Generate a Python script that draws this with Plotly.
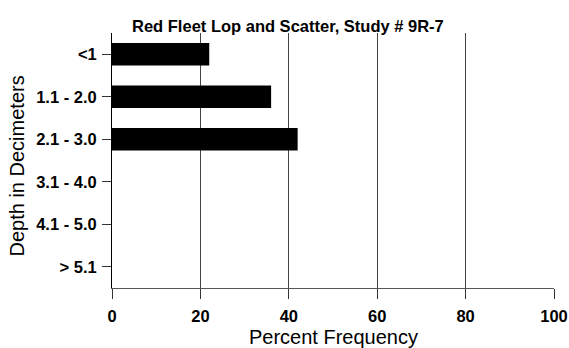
import plotly.graph_objects as go

# Depth classes (top to bottom) and their percent frequencies
depth_classes = ["<1", "1.1 - 2.0", "2.1 - 3.0", "3.1 - 4.0", "4.1 - 5.0", "> 5.1"]
percent_freq = [22, 36, 42, 0, 0, 0]
x_ticks = [0, 20, 40, 60, 80, 100]

FONT = "Liberation Sans, Arial, sans-serif"

fig = go.Figure(
    go.Bar(
        x=percent_freq,
        y=depth_classes,
        orientation="h",
        width=0.53,
        marker=dict(color="black", line=dict(width=0)),
    )
)

fig.update_layout(
    width=569,
    height=348,
    margin=dict(l=112, r=15, t=33, b=60),
    paper_bgcolor="white",
    plot_bgcolor="white",
    showlegend=False,
    title=dict(
        text="<b>Red Fleet Lop and Scatter, Study # 9R-7</b>",
        x=0.506,
        xanchor="center",
        y=0.925,
        yanchor="middle",
        font=dict(family=FONT, size=16.5, color="black"),
    ),
    font=dict(family=FONT, color="black"),
    annotations=[
        dict(
            text="Percent Frequency",
            xref="paper", yref="paper",
            x=0.5, y=-0.194,
            xanchor="center", yanchor="middle",
            showarrow=False,
            font=dict(family=FONT, size=20, color="black"),
        ),
        dict(
            text="Depth in Decimeters",
            xref="paper", yref="paper",
            x=-0.214, y=0.478,
            xanchor="center", yanchor="middle",
            textangle=-90,
            showarrow=False,
            font=dict(family=FONT, size=20, color="black"),
        ),
    ],
)

fig.update_xaxes(
    range=[0, 100],
    tickvals=x_ticks,
    ticktext=[f"<b>{v}</b>" for v in x_ticks],
    tickfont=dict(family=FONT, size=16.5, color="black"),
    ticks="outside",
    ticklen=10,
    tickcolor="#333",
    ticklabelstandoff=3,
    showgrid=True,
    gridcolor="#444",
    gridwidth=1,
    showline=True,
    linecolor="#555",
    linewidth=1,
    zeroline=False,
    automargin=False,
)

fig.update_yaxes(
    categoryorder="array",
    categoryarray=depth_classes,
    autorange="reversed",
    tickvals=depth_classes,
    ticktext=[f"<b>{c}</b>" for c in depth_classes],
    tickfont=dict(family=FONT, size=16.5, color="black"),
    ticks="outside",
    ticklen=9,
    tickcolor="#333",
    ticklabelstandoff=2,
    showgrid=False,
    showline=True,
    linecolor="black",
    linewidth=1,
    zeroline=False,
    automargin=False,
)

fig.write_html("out.html")
